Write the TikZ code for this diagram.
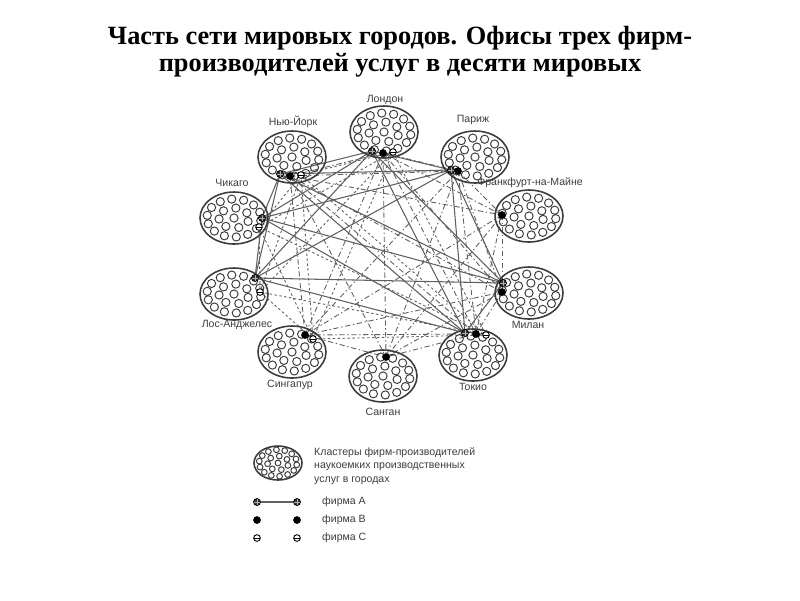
\documentclass[tikz,border=0pt]{standalone}
\usepackage{fontspec}
\setmainfont{Liberation Serif}
\setsansfont{Liberation Sans}
\usetikzlibrary{shapes.geometric,backgrounds}
\definecolor{inkgray}{RGB}{60,60,60}
\definecolor{linkgray}{RGB}{95,95,95}

% small circles inside a city cluster
\newcommand{\clusterdots}[2]{%
  \begin{scope}[shift={(#1.center)}, scale=#2]
    \foreach \i in {0,...,13}
      \draw[inkgray, line width=0.55pt] (\i*25.714+8:27 and 19) circle (4.1);
    \foreach \i in {0,...,6}
      \draw[inkgray, line width=0.55pt] (\i*51.43+20:15 and 10) circle (4.1);
    \draw[inkgray, line width=0.55pt] (0,0) circle (4.1);
  \end{scope}}

\tikzset{
  city/.style={draw=inkgray, ellipse, line width=0.9pt, inner sep=0pt,
    minimum width=1.36cm, minimum height=1.04cm},
  cityname/.style={font=\sffamily\fontsize{6}{7}\selectfont, text=inkgray},
  firmA/.style={circle, draw=black, fill=black!80, inner sep=0pt, minimum size=4pt,
    path picture={\draw[gray!60, line width=0.25pt]
      (path picture bounding box.west) -- (path picture bounding box.east)
      (path picture bounding box.north) -- (path picture bounding box.south);}},
  firmB/.style={circle, fill=black, inner sep=0pt, minimum size=4.4pt},
  firmC/.style={circle, draw=black, fill=white, line width=0.5pt, inner sep=0pt,
    minimum size=3.8pt,
    path picture={\draw[black, line width=0.4pt]
      (path picture bounding box.west) -- (path picture bounding box.east);}},
  linkA/.style={linkgray, line width=0.6pt},
  linkB/.style={linkgray, line width=0.5pt, dash pattern=on 3pt off 1.5pt on 0.8pt off 1.5pt},
  linkC/.style={linkgray, line width=0.5pt, dash pattern=on 1.4pt off 1.4pt}
}

\begin{document}
\begin{tikzpicture}[x=0.02cm, y=-0.02cm]
    \useasboundingbox (0,0) rectangle (800,600);

    % Title
    \node[font=\bfseries\fontsize{15}{15.5}\selectfont, align=center] (title) at (400,52)
      {Часть сети мировых городов. Офисы трех фирм-\\производителей услуг в десяти мировых};

    % City clusters
    \node[city] (lon) at (384,132) {};
    \node[city] (par) at (475,157) {};
    \node[city] (ny) at (292,157) {};
    \node[city] (chi) at (234,218) {};
    \node[city] (frk) at (529,216) {};
    \node[city] (mil) at (529,293) {};
    \node[city] (la) at (234,294) {};
    \node[city] (sing) at (292,352) {};
    \node[city] (tok) at (473,355) {};
    \node[city] (hk) at (383,376) {};
    \foreach \c in {lon,par,ny,chi,frk,mil,la,sing,tok,hk}
      \clusterdots{\c}{1};

    % City names
    \node[cityname] (lonname) at (385,100) {Лондон};
    \node[cityname] (parname) at (473,120) {Париж};
    \node[cityname] (nyname) at (293,122) {Нью-Йорк};
    \node[cityname] (chiname) at (232,183) {Чикаго};
    \node[cityname] (frkname) at (530,183) {Франкфурт-на-Майне};
    \node[cityname] (milname) at (528,325) {Милан};
    \node[cityname] (laname) at (237,325) {Лос-Анджелес};
    \node[cityname] (singname) at (290,385) {Сингапур};
    \node[cityname] (tokname) at (473,387) {Токио};
    \node[cityname] (hkname) at (383,412) {Санган};

    % Offices of the three firms
    \node[firmA] (lonA) at (372,151) {};
    \node[firmB] (lonB) at (383,153) {};
    \node[firmC] (lonC) at (393,152) {};
    \node[firmA] (parA) at (451,170) {};
    \node[firmB] (parB) at (458,171) {};
    \node[firmA] (nyA) at (280,174) {};
    \node[firmB] (nyB) at (290,176) {};
    \node[firmC] (nyC) at (301,175) {};
    \node[firmA] (chiA) at (262,218) {};
    \node[firmC] (chiC) at (259,227) {};
    \node[firmA] (laA) at (255,278) {};
    \node[firmC] (laC) at (260,292) {};
    \node[firmB] (frkB) at (502,215) {};
    \node[firmA] (milA) at (503,283) {};
    \node[firmB] (milB) at (502,292) {};
    \node[firmB] (singB) at (305,335) {};
    \node[firmC] (singC) at (313,339) {};
    \node[firmB] (hkB) at (386,357) {};
    \node[firmA] (tokA) at (465,333) {};
    \node[firmB] (tokB) at (476,334) {};
    \node[firmC] (tokC) at (486,335) {};

    % Links between offices
    \begin{scope}[on background layer]
      \foreach \p/\q in {nyA/chiA, nyA/laA, nyA/lonA, nyA/parA, nyA/milA, nyA/tokA,
          chiA/laA, chiA/lonA, chiA/parA, chiA/milA, chiA/tokA,
          laA/lonA, laA/parA, laA/milA, laA/tokA,
          lonA/parA, lonA/milA, lonA/tokA,
          parA/milA, parA/tokA, milA/tokA}
        \draw[linkA] (\p.center) -- (\q.center);
      \foreach \p/\q in {nyB/lonB, nyB/parB, nyB/frkB, nyB/milB, nyB/tokB, nyB/singB, nyB/hkB,
          lonB/parB, lonB/frkB, lonB/milB, lonB/tokB, lonB/singB, lonB/hkB,
          parB/frkB, parB/milB, parB/tokB, parB/singB, parB/hkB,
          frkB/milB, frkB/tokB, frkB/singB, frkB/hkB,
          milB/tokB, milB/singB, milB/hkB,
          tokB/singB, tokB/hkB, singB/hkB}
        \draw[linkB] (\p.center) -- (\q.center);
      \foreach \p/\q in {nyC/lonC, nyC/chiC, nyC/laC, nyC/singC, nyC/tokC,
          lonC/chiC, lonC/laC, lonC/singC, lonC/tokC,
          chiC/laC, chiC/singC, chiC/tokC,
          laC/singC, laC/tokC, singC/tokC}
        \draw[linkC] (\p.center) -- (\q.center);
    \end{scope}

    % Legend
    \node[city, minimum width=0.96cm, minimum height=0.68cm] (legclu) at (278,463) {};
    \clusterdots{legclu}{0.7}
    \node[cityname, anchor=west, align=left, font=\sffamily\fontsize{6}{7.6}\selectfont]
      (legtext) at (308,466)
      {Кластеры фирм-производителей\\наукоемких производственных\\услуг в городах};

    \node[firmA] (legA1) at (257,502) {};
    \node[firmA] (legA2) at (297,502) {};
    \draw[linkA] (legA1) -- (legA2);
    \node[firmB] (legB1) at (257,520) {};
    \node[firmB] (legB2) at (297,520) {};
    \node[firmC] (legC1) at (257,538) {};
    \node[firmC] (legC2) at (297,538) {};
    \node[cityname, anchor=west] (legAname) at (316,502) {фирма А};
    \node[cityname, anchor=west] (legBname) at (316,520) {фирма В};
    \node[cityname, anchor=west] (legCname) at (316,538) {фирма С};
\end{tikzpicture}
\end{document}
